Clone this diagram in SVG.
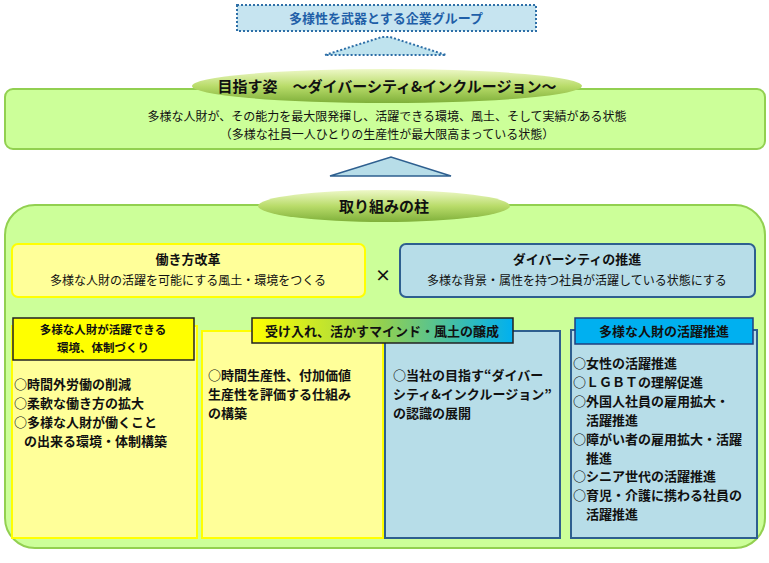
<svg xmlns="http://www.w3.org/2000/svg" width="769" height="563" viewBox="0 0 769 563">
<defs>
<linearGradient id="ell" x1="0" y1="0" x2="0" y2="1"><stop offset="0" stop-color="#eef8c8"/><stop offset="0.5" stop-color="#b9dc6a"/><stop offset="1" stop-color="#7fb03a"/></linearGradient>
<linearGradient id="hg" x1="0" y1="0" x2="1" y2="0"><stop offset="0" stop-color="#ffff00"/><stop offset="0.5" stop-color="#92d050"/><stop offset="1" stop-color="#00b0f0"/></linearGradient>
</defs>
<style>
text{font-family:"Noto Sans CJK JP","Noto Sans CJK SC",sans-serif;fill:#111}
.b{font-weight:bold}
.s{font-size:12px}
.m{font-size:13px;font-weight:bold}
</style>
<rect width="769" height="563" fill="#fff"/>
<g id="connectors">
<polygon points="325,55 382,37 390,37 446,55" fill="#bfe3ee" stroke="#2e6fa7" stroke-width="2" stroke-dasharray="2,2"/>
<polygon points="330,176 391,157 451,176" fill="#b7dde8" stroke="#2e5f8f" stroke-width="1.5"/>
</g>
<g id="top">
<rect x="237" y="5" width="299" height="26" fill="#c6e4f0" stroke="#2e6fa7" stroke-width="2" stroke-dasharray="2,2"/>
<text x="386" y="23" text-anchor="middle" class="b" font-size="13" style="fill:#1f5fa8">多様性を武器とする企業グループ</text>
</g>
<g id="goal">
<rect x="5" y="89" width="760" height="60" rx="8" fill="#ccff99" stroke="#92d050" stroke-width="2"/>
<ellipse cx="387" cy="86" rx="195" ry="17" fill="url(#ell)"/>
<text x="387" y="92" text-anchor="middle" class="b" font-size="15">目指す姿　～ダイバーシティ&amp;インクルージョン～</text>
<text x="387" y="121" text-anchor="middle" class="s">多様な人財が、その能力を最大限発揮し、活躍できる環境、風土、そして実績がある状態</text>
<text x="387" y="139" text-anchor="middle" class="s">（多様な社員一人ひとりの生産性が最大限高まっている状態）</text>
</g>
<g id="pillars">
<rect x="5" y="205" width="760" height="343" rx="30" fill="#ccff99" stroke="#92d050" stroke-width="2"/>
<ellipse cx="384" cy="206" rx="126" ry="16" fill="url(#ell)"/>
<text x="384" y="212" text-anchor="middle" class="b" font-size="15">取り組みの柱</text>
</g>
<g id="work">
<rect x="12" y="244" width="353" height="53" rx="6" fill="#ffff99" stroke="#ffff00" stroke-width="2"/>
<text x="188" y="264" text-anchor="middle" class="m">働き方改革</text>
<text x="188" y="285" text-anchor="middle" class="s">多様な人財の活躍を可能にする風土・環境をつくる</text>
</g>
<text x="383" y="281" text-anchor="middle" class="b" font-size="16">×</text>
<g id="diversity">
<rect x="400" y="244" width="355" height="53" rx="6" fill="#b7dde8" stroke="#2e5f8f" stroke-width="2"/>
<text x="577" y="264" text-anchor="middle" class="m">ダイバーシティの推進</text>
<text x="577" y="285" text-anchor="middle" class="s">多様な背景・属性を持つ社員が活躍している状態にする</text>
</g>
<g id="col1">
<rect x="12" y="326" width="185" height="212" fill="#ffff99" stroke="#ffff00" stroke-width="2"/>
<rect x="13" y="318" width="181" height="42" fill="#ffff00" stroke="#222" stroke-width="1.5"/>
<text x="103" y="334" text-anchor="middle" class="b" font-size="11.5">多様な人財が活躍できる</text>
<text x="103" y="352" text-anchor="middle" class="b" font-size="11.5">環境、体制づくり</text>
<text x="14" y="389" class="m">○時間外労働の削減</text>
<text x="14" y="408" class="m">○柔軟な働き方の拡大</text>
<text x="14" y="427" class="m">○多様な人財が働くこと</text>
<text x="24" y="446" class="m">の出来る環境・体制構築</text>
</g>
<g id="col2">
<rect x="202" y="331" width="181" height="207" fill="#ffff99" stroke="#ffff00" stroke-width="2"/>
<text x="208" y="380" class="m">○時間生産性、付加価値</text>
<text x="208" y="399" class="m">生産性を評価する仕組み</text>
<text x="208" y="418" class="m">の構築</text>
</g>
<g id="col3">
<rect x="385" y="331" width="175" height="207" fill="#b7dde8" stroke="#2e5f8f" stroke-width="2"/>
<text x="393" y="380" class="m">○当社の目指す“ダイバー</text>
<text x="393" y="399" class="m">シティ&amp;インクルージョン”</text>
<text x="393" y="418" class="m">の認識の展開</text>
</g>
<g id="header2">
<rect x="252" y="318" width="261" height="25" fill="url(#hg)" stroke="#222" stroke-width="1.5"/>
<text x="382" y="336" text-anchor="middle" class="m">受け入れ、活かすマインド・風土の醸成</text>
</g>
<g id="col4">
<rect x="571" y="330" width="186" height="208" fill="#b7dde8" stroke="#2e5f8f" stroke-width="2"/>
<rect x="575" y="318" width="178" height="26" fill="#00b0f0" stroke="#1f3f7f" stroke-width="1.5"/>
<text x="664" y="336" text-anchor="middle" class="m">多様な人財の活躍推進</text>
<text x="573" y="368" class="m">○女性の活躍推進</text>
<text x="573" y="387" class="m">○ＬＧＢＴの理解促進</text>
<text x="573" y="406" class="m">○外国人社員の雇用拡大・</text>
<text x="586" y="425" class="m">活躍推進</text>
<text x="573" y="444" class="m">○障がい者の雇用拡大・活躍</text>
<text x="586" y="463" class="m">推進</text>
<text x="573" y="481" class="m">○シニア世代の活躍推進</text>
<text x="573" y="500" class="m">○育児・介護に携わる社員の</text>
<text x="586" y="519" class="m">活躍推進</text>
</g>
</svg>
